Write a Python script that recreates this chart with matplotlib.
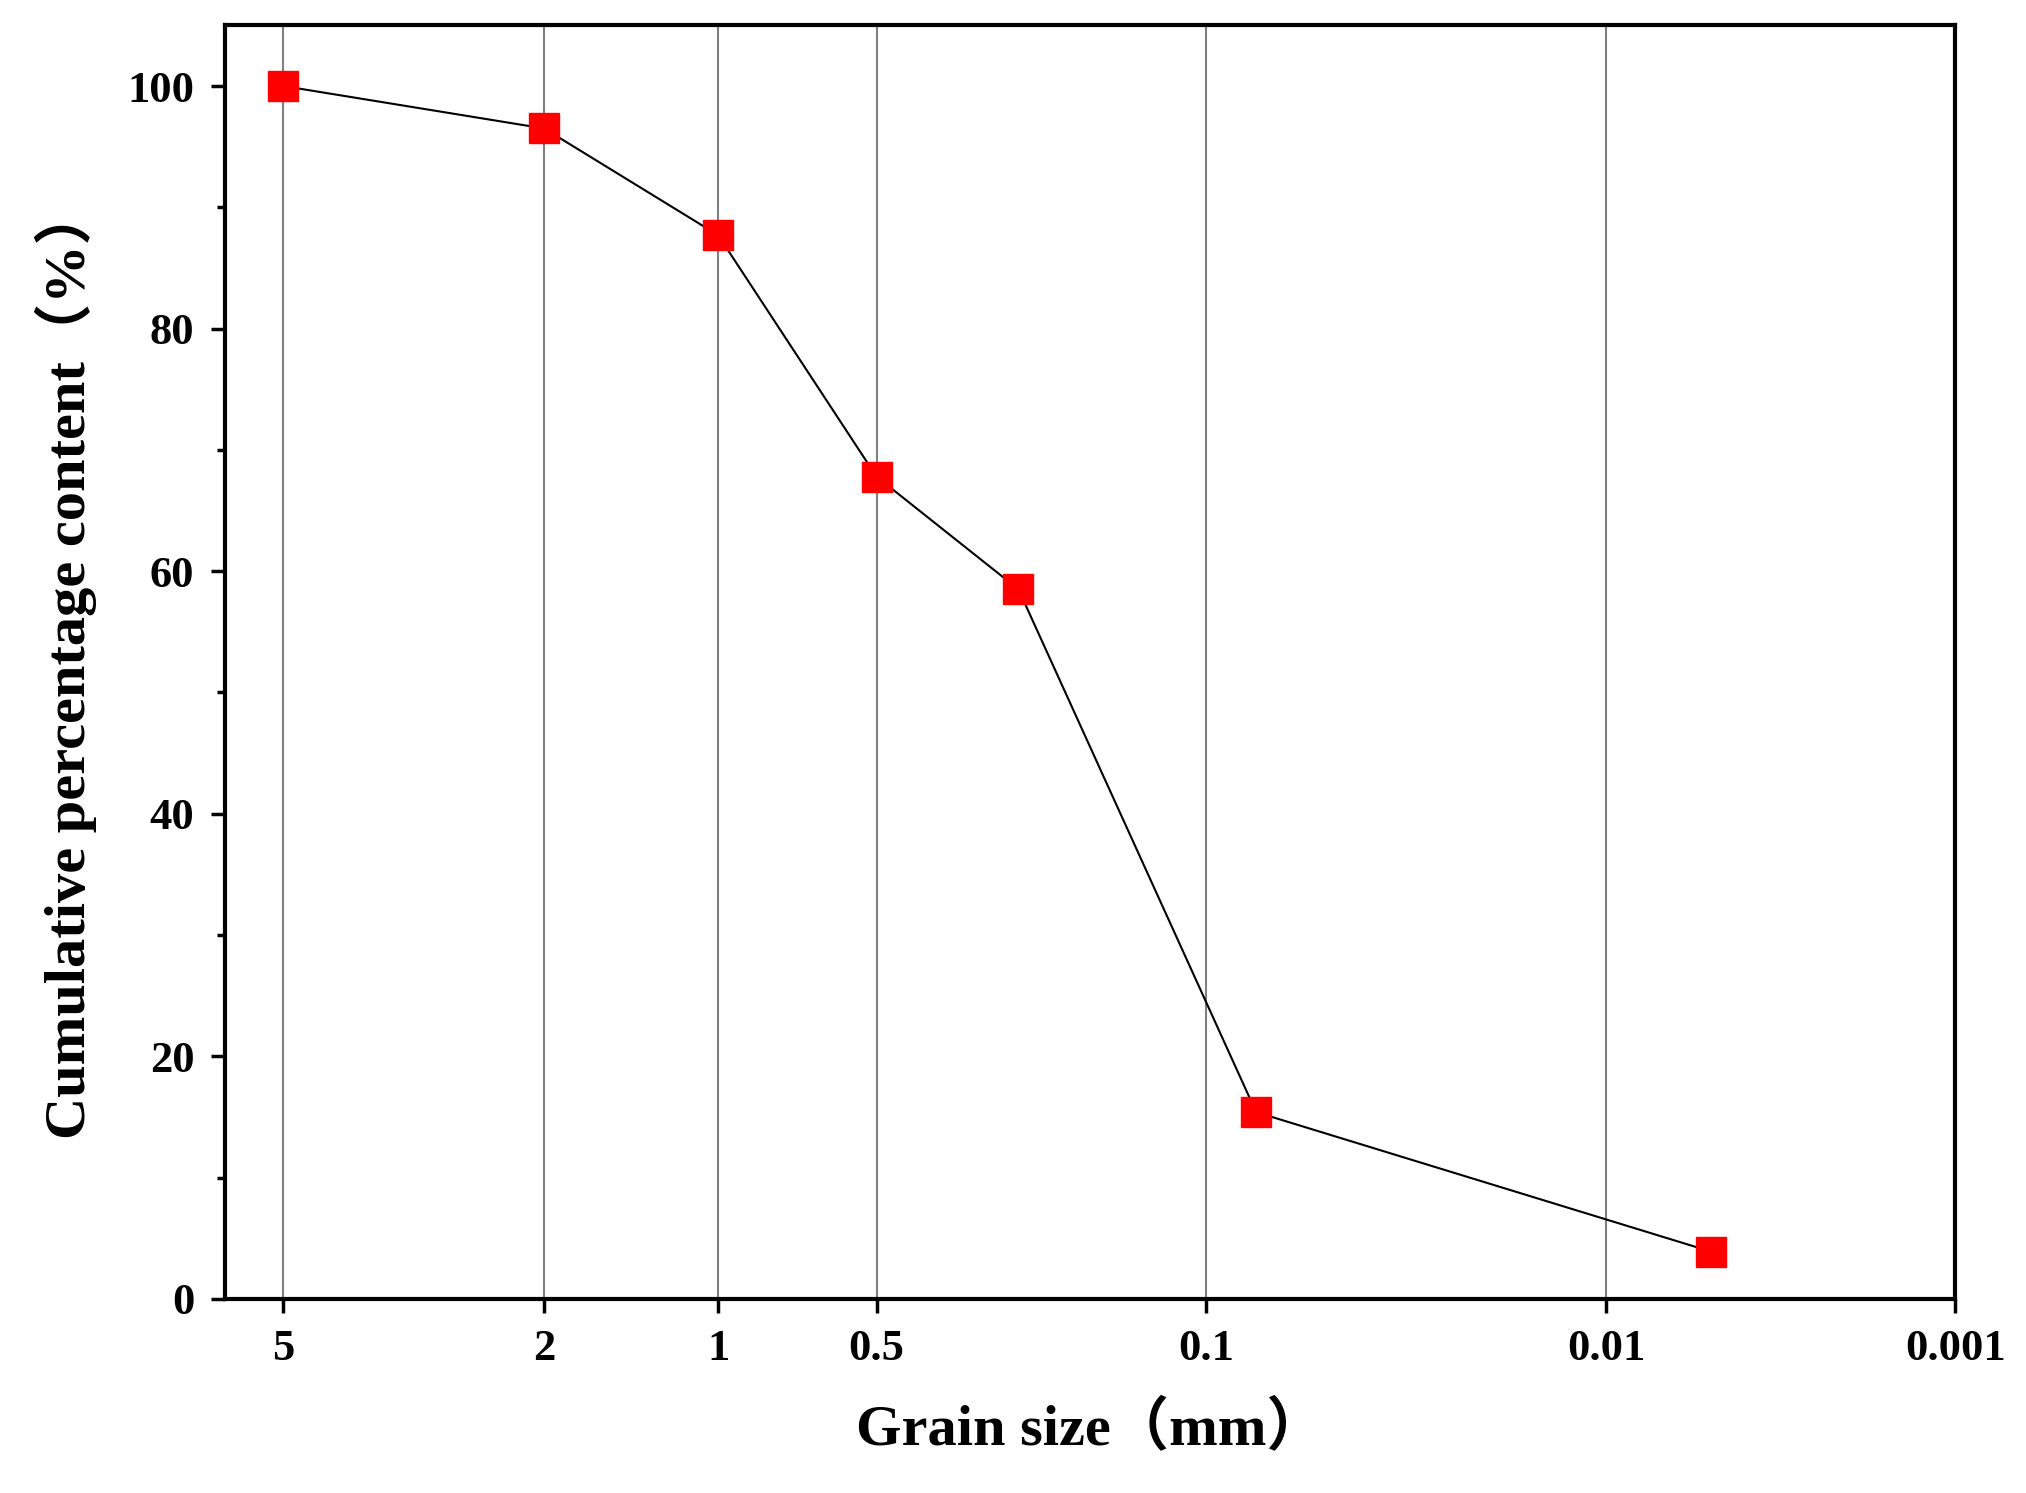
import numpy as np
import matplotlib.pyplot as plt

grain_size = [5, 2, 1, 0.5, 0.25, 0.075, 0.005]
cumulative = [100, 96.5, 87.7, 67.8, 58.5, 15.4, 3.9]
tick_values = [5, 2, 1, 0.5, 0.1, 0.01, 0.001]
tick_labels = ['5', '2', '1', '0.5', '0.1', '0.01', '0.001']

# the original axis is not evenly logarithmic, so map it piecewise
knot_d = np.array([10, 5, 2, 1, 0.5, 0.1, 0.01, 0.001, 0.0001])
knot_px = np.array([66, 218, 419, 553, 675, 929, 1237, 1506, 1775], dtype=float)
knot_l = -np.log10(knot_d)


def fwd(d):
    d = np.clip(np.asarray(d, dtype=float), 1e-6, None)
    return np.interp(-np.log10(d), knot_l, knot_px)


def inv(p):
    return 10 ** (-np.interp(np.asarray(p, dtype=float), knot_px, knot_l))


plt.rcParams['font.family'] = ['Liberation Serif', 'Noto Sans CJK SC']
plt.rcParams['font.weight'] = 'bold'

fig = plt.figure(figsize=(20.26, 14.93), dpi=100)
ax = fig.add_axes([0.111, 0.130, 0.854, 0.853])
ax.set_xscale('function', functions=(fwd, inv))
ax.set_xlim(0.001, 6.14)
ax.set_ylim(0, 105)

ax.set_xticks(tick_values)
ax.set_xticklabels(tick_labels)
ax.minorticks_off()
ax.set_yticks([0, 20, 40, 60, 80, 100])
ax.set_yticks([10, 30, 50, 70, 90], minor=True)
ax.grid(axis='x', color='gray', linewidth=1.5)

ax.plot(grain_size, cumulative, color='black', linewidth=1.5,
        marker='s', markersize=21, markerfacecolor='red',
        markeredgecolor='red', zorder=3)

ax.tick_params(axis='both', which='major', direction='out', length=10,
               width=2.5, labelsize=32, pad=12)
ax.tick_params(axis='y', which='minor', direction='out', length=6, width=2.5)
for s in ax.spines.values():
    s.set_linewidth(3)

ax.set_xlabel('Grain size（mm）', fontsize=42, fontweight='bold', labelpad=22)
ax.set_ylabel('Cumulative percentage content（%）', fontsize=42,
              fontweight='bold', labelpad=22)

fig.savefig('out.png', dpi=100)
